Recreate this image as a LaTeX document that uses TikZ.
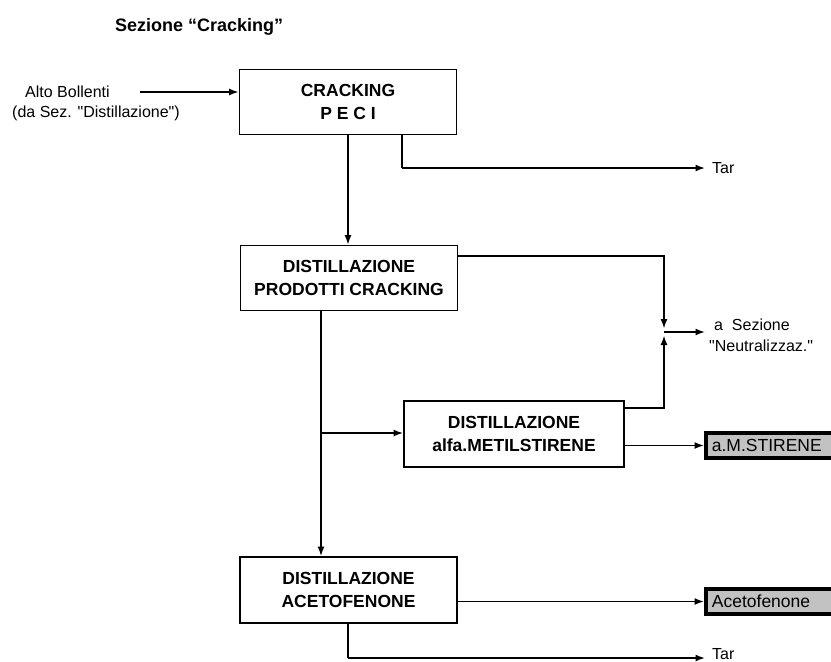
\documentclass[tikz,border=0pt]{standalone}
\usepackage{fontspec}
\setmainfont{Liberation Sans}[Ligatures=TeXOff]
\usetikzlibrary{arrows.meta}
\begin{document}
\begin{tikzpicture}[x=1pt,y=-1pt,
  proc/.style={draw, line width=1.9pt, minimum width=217pt, minimum height=65pt, inner sep=0pt, align=center,
    font=\fontsize{17.5}{23}\selectfont\bfseries},
  prod/.style={draw, line width=3.8pt, fill=black!24, anchor=west, minimum height=25pt, text width=168pt,
    inner xsep=6pt, inner ysep=0pt, align=left, font=\fontsize{17.5}{21}\selectfont},
  lbl/.style={font=\fontsize{16}{21}\selectfont, inner sep=0pt},
  flow/.style={line width=1.5pt, -{Latex[length=9.5pt,width=7pt]}},
  plain/.style={line width=1.5pt}]
\useasboundingbox (0,0) rectangle (831,662);
\clip (0,0) rectangle (831,662);

% title
\node[anchor=west, inner sep=0pt, font=\fontsize{18}{22}\selectfont\bfseries] (title) at (115,27) {Sezione “Cracking”};

% input label
\node[lbl, anchor=west] (alto) at (25,92) {Alto Bollenti};
\node[lbl, anchor=west] (dasez) at (12,113) {(da Sez. "Distillazione")};

% process boxes
\node[proc] (crack) at (348,102) {CRACKING\\P E C I};
\node[proc] (dpc) at (349,278) {DISTILLAZIONE\\PRODOTTI CRACKING};
\node[proc, minimum width=220pt, minimum height=66pt] (dams) at (514,434) {DISTILLAZIONE\\alfa.METILSTIRENE};
\node[proc, minimum height=66pt] (dac) at (348.5,590) {DISTILLAZIONE\\ACETOFENONE};

% product boxes
\node[prod] (ams) at (704,445.5) {a.M.STIRENE};
\node[prod] (aceto) at (704,601.5) {Acetofenone};

% outlet labels
\node[lbl, anchor=west] (tar1) at (712,168) {Tar};
\node[lbl, anchor=west] (tar2) at (712,654) {Tar};
\node[lbl, anchor=west, align=left] (neut) at (709,335) {\hspace{5pt}a\ \ Sezione\\"Neutralizzaz."};

% coordinates
\coordinate (ain) at (140,92);
\coordinate (j) at (664,332);
\coordinate (c1) at (402,168);
\coordinate (c2) at (664,256);
\coordinate (c3) at (664,408);
\coordinate (br) at (321,433);
\coordinate (c4) at (348,658);
\coordinate (tar1end) at (705,168);
\coordinate (tar2end) at (705,658);
\coordinate (neutend) at (705,332);

% connectors
\draw[flow] (ain) -- (ain -| crack.west);
\draw[flow] (crack.south) -- (crack.south |- dpc.north);
\draw[plain] (c1 |- crack.south) -- (c1);
\draw[flow] (c1) -- (tar1end);
\draw[flow, shorten >=3.5pt] (dpc.east |- c2) -- (c2) -- (j);
\draw[flow, shorten >=3.5pt] (dams.east |- c3) -- (c3) -- (j);
\draw[flow] (j) -- (neutend);
\draw[flow] (br |- dpc.south) -- (br |- dac.north);
\draw[flow] (br) -- (br -| dams.west);
\draw[flow] (dams.east |- ams.west) -- (ams.west);
\draw[flow] (dac.east |- aceto.west) -- (aceto.west);
\draw[plain] (c4 |- dac.south) -- (c4);
\draw[flow] (c4) -- (tar2end);
\end{tikzpicture}
\end{document}
